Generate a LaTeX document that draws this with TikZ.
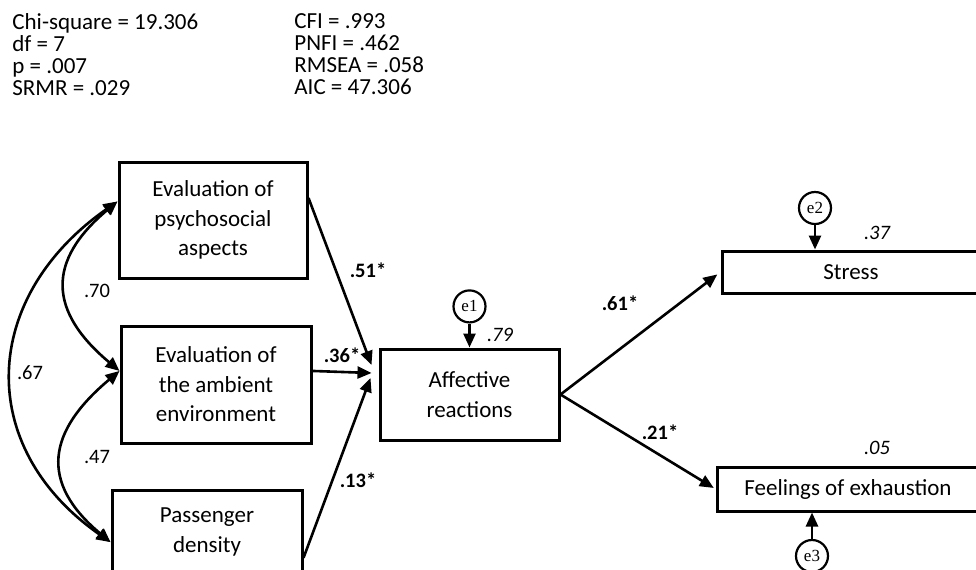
\documentclass[tikz,border=0pt]{standalone}
\usepackage{fontspec}
\setmainfont{Carlito}
\newfontfamily\errfont{Liberation Serif}
\usetikzlibrary{arrows.meta,positioning,calc}
\setlength{\lineskiplimit}{-5pt}

\begin{document}
\begin{tikzpicture}[x=0.5pt,y=-0.5pt,
  varbox/.style={rectangle,draw,line width=1.5pt,align=center,inner sep=0pt,font=\fontsize{11.5}{14.75}\selectfont},
  err/.style={circle,draw,line width=1.1pt,minimum size=16pt,inner sep=0pt,font=\errfont\fontsize{8.5}{9}\selectfont},
  reg/.style={-{Triangle[length=7pt,width=6pt]},line width=1.3pt},
  cov/.style={{Triangle[length=7pt,width=6pt]}-{Triangle[length=7pt,width=6pt]},line width=1.3pt},
  stats/.style={align=left,anchor=north west,inner sep=0pt,font=\fontsize{11.5}{11}\selectfont},
  coef/.style={font=\fontsize{10.25}{12}\selectfont\bfseries,inner sep=0pt},
  rsq/.style={font=\fontsize{10.25}{12}\selectfont\itshape,inner sep=0pt},
  corr/.style={font=\fontsize{10.25}{12}\selectfont,inner sep=0pt}]
  \useasboundingbox (0,0) rectangle (976,569);
  \clip (0,0) rectangle (976,569);

  % fit indices
  \node[stats] (fitA) at (12,13) {Chi-square = 19.306\\df = 7\\p = .007\\SRMR = .029};
  \node[stats] (fitB) at (294,13) {CFI = .993\\PNFI = .462\\RMSEA = .058\\AIC = 47.306};

  % observed variables
  \node[varbox,minimum width=94pt,minimum height=58pt]   (psy) at (213,220)   {Evaluation of\\psychosocial\\aspects};
  \node[varbox,minimum width=95pt,minimum height=58.5pt] (amb) at (216,384.5) {Evaluation of\\the ambient\\environment};
  \node[varbox,minimum width=95pt,minimum height=42pt]   (pas) at (207,532)   {Passenger\\density};
  \node[varbox,minimum width=89.5pt,minimum height=45.5pt] (aff) at (469.5,394.5) {Affective\\reactions};
  \node[varbox,minimum width=129pt,minimum height=21pt]  (str) at (851,272)   {Stress};
  \node[varbox,minimum width=131pt,minimum height=22pt]  (exh) at (848,489)   {Feelings of exhaustion};

  % residuals
  \node[err,above=12pt of aff] (e1) {e1};
  \node[err] (e2) at (815,208) {e2};
  \node[err] (e3) at (812,556) {e3};
  \draw[reg] (e1) -- (aff);
  \draw[reg] (e2) -- (e2 |- str.north);
  \draw[reg] (e3) -- (e3 |- exh.south);

  % paths
  \coordinate (in1) at ($(aff.west)+(-7,-29.5)$);
  \coordinate (in2) at ($(aff.west)+(-7,-21.5)$);
  \coordinate (in3) at ($(aff.west)+(-8,-16.5)$);
  \draw[reg] (psy.13) -- (in1);
  \draw[reg] (amb.8) -- (in2);
  \draw[reg] (pas.-15) -- (in3);
  \draw[reg,shorten >=2pt] (aff.east) -- (str.west);
  \draw[reg,shorten >=1pt] (aff.east) -- (exh.west);

  % correlations
  \draw[cov] (psy.169) to[out=220,in=140,looseness=1.4] (amb.172);
  \draw[cov] (amb.172) to[out=220,in=140,looseness=1.4] (pas.186);
  \draw[cov] (psy.169) to[out=215,in=145,looseness=1.25] (pas.186);

  % estimates
  \node[coef] (b1) at (368,270) {.51*};
  \node[coef] (b2) at (342,355) {.36*};
  \node[coef] (b3) at (358,480) {.13*};
  \node[coef] (b4) at (620,303) {.61*};
  \node[coef] (b5) at (660,432) {.21*};
  \node[corr] (r1) at (97,291) {.70};
  \node[corr] (r2) at (30,373) {.67};
  \node[corr] (r3) at (97,457) {.47};
  \node[rsq] (q1) at (500,335) {.79};
  \node[rsq] (q2) at (877,233) {.37};
  \node[rsq] (q3) at (877,448) {.05};
\end{tikzpicture}
\end{document}
